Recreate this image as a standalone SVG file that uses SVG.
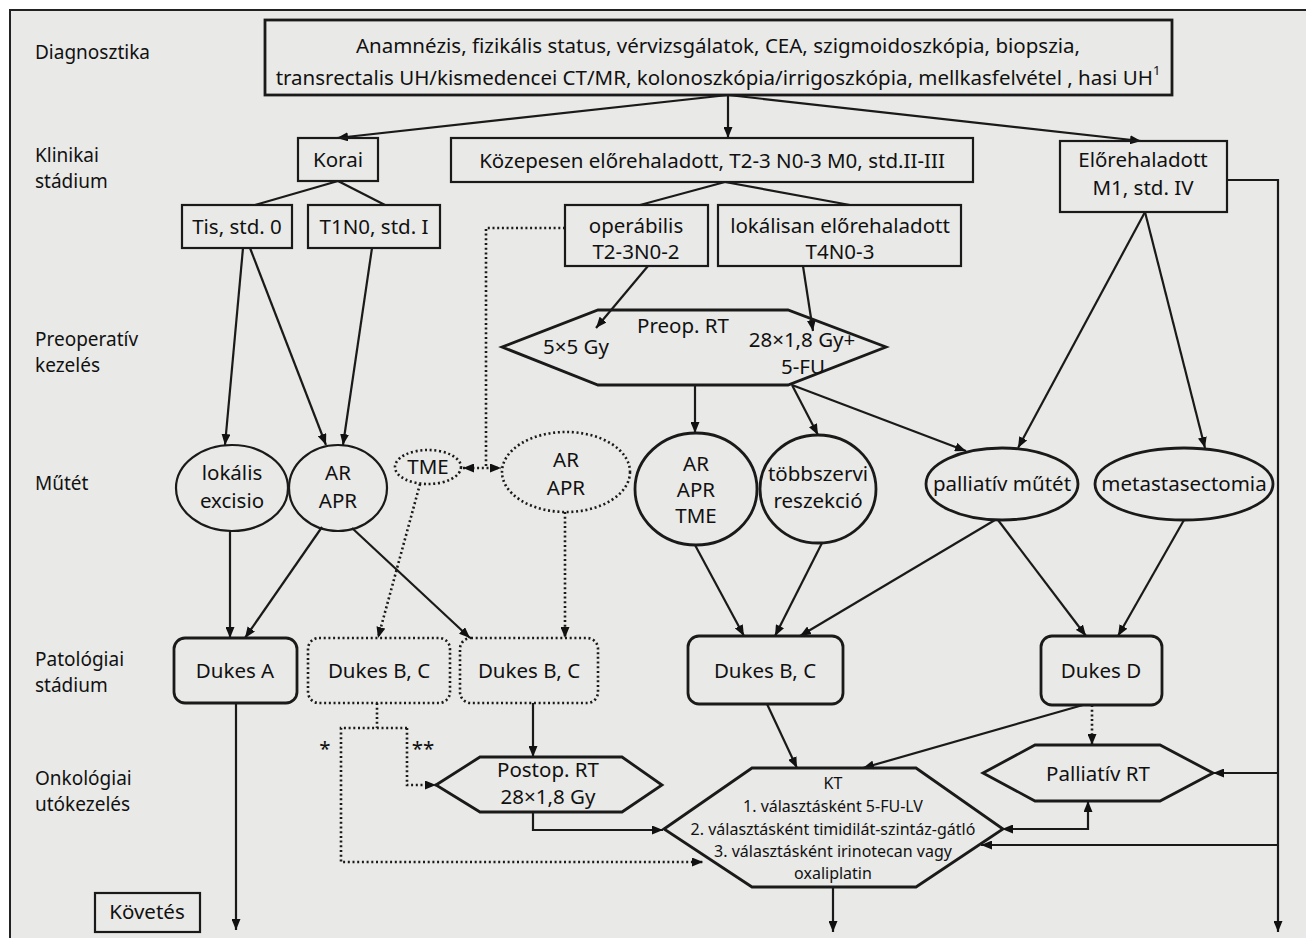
<svg xmlns="http://www.w3.org/2000/svg" width="1306" height="938" viewBox="0 0 1306 938">
<defs>
<marker id="ah" viewBox="0 0 11 9" refX="11" refY="4.5" markerWidth="11" markerHeight="9" markerUnits="userSpaceOnUse" orient="auto-start-reverse"><path d="M0,0 L11,4.5 L0,9 z" fill="#111"/></marker>
<style>
text{font-family:"Noto Sans","Liberation Sans",sans-serif;fill:#111;font-size:20.5px}
.lbl{font-size:19px}
.c{text-anchor:middle}
.kt{font-size:16px}
.n{fill:none;stroke:#1a1a1a;stroke-width:2.2}
.nt{fill:none;stroke:#1a1a1a;stroke-width:2.8}
.nd{fill:none;stroke:#1a1a1a;stroke-width:2.6;stroke-dasharray:2 2.7}
.e{fill:none;stroke:#1a1a1a;stroke-width:2.2}
.ed{fill:none;stroke:#1a1a1a;stroke-width:2.6;stroke-dasharray:2 2.7}
.a{marker-end:url(#ah)}
.b{marker-start:url(#ah);marker-end:url(#ah)}
</style>
</defs>
<rect x="0" y="0" width="1306" height="938" fill="#ffffff"/>
<rect x="10" y="10" width="1296" height="928" fill="#e9e9e7"/>
<path d="M1306,10 H10 V938" fill="none" stroke="#222" stroke-width="2"/>

<g id="row-labels">
<text class="lbl" x="35" y="59">Diagnosztika</text>
<text class="lbl" x="35" y="162">Klinikai</text>
<text class="lbl" x="35" y="188">stádium</text>
<text class="lbl" x="35" y="346">Preoperatív</text>
<text class="lbl" x="35" y="372">kezelés</text>
<text class="lbl" x="35" y="490">Műtét</text>
<text class="lbl" x="35" y="666">Patológiai</text>
<text class="lbl" x="35" y="692">stádium</text>
<text class="lbl" x="35" y="785">Onkológiai</text>
<text class="lbl" x="35" y="811">utókezelés</text>
</g>

<g id="connectors">
<line class="e a" x1="728" y1="95" x2="337" y2="138"/>
<line class="e a" x1="728" y1="95" x2="728" y2="138"/>
<line class="e a" x1="728" y1="95" x2="1141" y2="141"/>
<line class="e" x1="338" y1="181" x2="255" y2="205"/>
<line class="e" x1="338" y1="181" x2="385" y2="205"/>
<line class="e" x1="725" y1="182" x2="640" y2="205"/>
<line class="e" x1="725" y1="182" x2="850" y2="205"/>
<path class="e a" d="M1227,180 H1278 V932"/>
<line class="e a" x1="648" y1="266" x2="596" y2="328"/>
<line class="e a" x1="803" y1="266" x2="813" y2="331"/>
<line class="e a" x1="243" y1="248" x2="225" y2="445"/>
<line class="e a" x1="250" y1="248" x2="326" y2="445"/>
<line class="e a" x1="372" y1="248" x2="343" y2="445"/>
<path class="ed" d="M565,228 H486 V468"/>
<line class="ed b" x1="463" y1="468" x2="501" y2="468"/>
<line class="e a" x1="695" y1="385" x2="695" y2="433"/>
<line class="e a" x1="792" y1="385" x2="818" y2="435"/>
<line class="e a" x1="792" y1="385" x2="966" y2="451"/>
<line class="e a" x1="1145" y1="212" x2="1018" y2="448"/>
<line class="e a" x1="1145" y1="212" x2="1205" y2="448"/>
<line class="e a" x1="230" y1="531" x2="230" y2="638"/>
<line class="e a" x1="322" y1="527" x2="245" y2="638"/>
<line class="e a" x1="352" y1="528" x2="470" y2="638"/>
<line class="ed a" x1="420" y1="484" x2="378" y2="638"/>
<line class="ed a" x1="565" y1="512" x2="565" y2="638"/>
<line class="e a" x1="695" y1="545" x2="744" y2="636"/>
<line class="e a" x1="822" y1="543" x2="775" y2="636"/>
<line class="e a" x1="995" y1="520" x2="800" y2="636"/>
<line class="e a" x1="998" y1="520" x2="1086" y2="636"/>
<line class="e a" x1="1184" y1="520" x2="1118" y2="636"/>
<line class="e a" x1="236" y1="703" x2="236" y2="930"/>
<line class="ed" x1="377" y1="703" x2="377" y2="728"/>
<path class="ed a" d="M407,728 H341 V862 H703"/>
<path class="ed a" d="M407,728 V785 H436"/>
<line class="e a" x1="533" y1="703" x2="533" y2="757"/>
<path class="e a" d="M533,812 V830 H663"/>
<line class="e a" x1="767" y1="704" x2="797" y2="768"/>
<line class="e a" x1="1083" y1="705" x2="863" y2="768"/>
<line class="ed a" x1="1092" y1="705" x2="1092" y2="745"/>
<line class="e a" x1="1278" y1="773" x2="1213" y2="773"/>
<path class="e b" d="M1002,829 H1088 V801"/>
<line class="e a" x1="1278" y1="845" x2="981" y2="845"/>
<line class="e a" x1="833" y1="887" x2="833" y2="932"/>
<text x="325" y="756" class="c" font-size="22">*</text>
<text x="423" y="756" class="c" font-size="22">**</text>
</g>

<g id="diagnosztika">
<rect class="nt" x="265" y="20" width="907" height="75"/>
<text class="c" x="718" y="53" font-size="21.5">Anamnézis, fizikális status, vérvizsgálatok, CEA, szigmoidoszkópia, biopszia,</text>
<text class="c" x="718" y="85" font-size="21.5">transrectalis UH/kismedencei CT/MR,  kolonoszkópia/irrigoszkópia, mellkasfelvétel , hasi UH<tspan font-size="13" dy="-10">1</tspan></text>
</g>
<g id="korai"><rect class="n" x="298" y="138" width="80" height="43"/><text class="c" x="338" y="167">Korai</text></g>
<g id="kozepesen"><rect class="n" x="451" y="138" width="522" height="44"/><text class="c" x="712" y="168">Közepesen előrehaladott, T2-3 N0-3 M0, std.II-III</text></g>
<g id="elorehaladott"><rect class="n" x="1060" y="141" width="167" height="71"/><text class="c" x="1143" y="167">Előrehaladott</text><text class="c" x="1143" y="195">M1, std. IV</text></g>
<g id="tis"><rect class="n" x="182" y="205" width="110" height="43"/><text class="c" x="237" y="234">Tis, std. 0</text></g>
<g id="t1n0"><rect class="n" x="308" y="205" width="132" height="43"/><text class="c" x="374" y="234">T1N0, std. I</text></g>
<g id="operabilis"><rect class="n" x="565" y="205" width="143" height="61"/><text class="c" x="636" y="233">operábilis</text><text class="c" x="636" y="259">T2-3N0-2</text></g>
<g id="lokalisan"><rect class="n" x="718" y="205" width="243" height="61"/><text class="c" x="840" y="233">lokálisan előrehaladott</text><text class="c" x="840" y="259">T4N0-3</text></g>
<g id="preop-rt"><polygon class="nt" points="502,347 598,310 788,310 886,347 788,385 598,385"/>
<text class="c" x="576" y="354" font-size="20">5×5 Gy</text><text class="c" x="683" y="333" font-size="20">Preop. RT</text><text class="c" x="802" y="347" font-size="20">28×1,8 Gy+</text><text class="c" x="803" y="374" font-size="20">5-FU</text></g>
<g id="lokalis-excisio"><ellipse class="n" cx="232" cy="488" rx="56" ry="43"/><text class="c" x="232" y="480">lokális</text><text class="c" x="232" y="508">excisio</text></g>
<g id="ar-apr-1"><ellipse class="n" cx="338" cy="488" rx="49" ry="43"/><text class="c" x="338" y="480">AR</text><text class="c" x="338" y="508">APR</text></g>
<g id="tme"><ellipse class="nd" cx="428" cy="467" rx="33" ry="17"/><text class="c" x="428" y="474" font-size="19">TME</text></g>
<g id="ar-apr-2"><ellipse class="nd" cx="566" cy="472" rx="64" ry="40"/><text class="c" x="566" y="467">AR</text><text class="c" x="566" y="495">APR</text></g>
<g id="ar-apr-tme"><ellipse class="nt" cx="696" cy="489" rx="61" ry="56"/><text class="c" x="696" y="471">AR</text><text class="c" x="696" y="497">APR</text><text class="c" x="696" y="523">TME</text></g>
<g id="tobbszervi"><ellipse class="nt" cx="818" cy="489" rx="58" ry="54"/><text class="c" x="818" y="481">többszervi</text><text class="c" x="818" y="508">reszekció</text></g>
<g id="palliativ-mutet"><ellipse class="nt" cx="1002" cy="484" rx="76" ry="36"/><text class="c" x="1002" y="491">palliatív műtét</text></g>
<g id="metastasectomia"><ellipse class="nt" cx="1184" cy="484" rx="89" ry="36"/><text class="c" x="1184" y="491">metastasectomia</text></g>
<g id="dukes-a"><rect class="nt" x="174" y="638" width="123" height="65" rx="11"/><text class="c" x="235" y="678">Dukes A</text></g>
<g id="dukes-bc-1"><rect class="nd" x="308" y="638" width="142" height="65" rx="11"/><text class="c" x="379" y="678">Dukes B, C</text></g>
<g id="dukes-bc-2"><rect class="nd" x="460" y="638" width="138" height="65" rx="11"/><text class="c" x="529" y="678">Dukes B, C</text></g>
<g id="dukes-bc-3"><rect class="nt" x="688" y="636" width="155" height="68" rx="11"/><text class="c" x="765" y="678">Dukes B, C</text></g>
<g id="dukes-d"><rect class="nt" x="1041" y="636" width="121" height="69" rx="11"/><text class="c" x="1101" y="678">Dukes D</text></g>
<g id="postop-rt"><polygon class="nt" points="436,785 480,757 622,757 662,785 622,812 480,812"/><text class="c" x="548" y="777">Postop. RT</text><text class="c" x="548" y="804">28×1,8 Gy</text></g>
<g id="palliativ-rt"><polygon class="nt" points="983,773 1035,745 1160,745 1213,773 1160,801 1035,801"/><text class="c" x="1098" y="781">Palliatív RT</text></g>
<g id="kt"><polygon class="nt" points="664,829 752,768 916,768 1003,829 916,887 752,887"/>
<text class="c kt" x="833" y="789">KT</text>
<text class="c kt" x="833" y="812">1. választásként 5-FU-LV</text>
<text class="c kt" x="833" y="835">2. választásként timidilát-szintáz-gátló</text>
<text class="c kt" x="833" y="857">3. választásként irinotecan vagy</text>
<text class="c kt" x="833" y="879">oxaliplatin</text></g>
<g id="kovetes"><rect class="n" x="95" y="893" width="105" height="39"/><text class="c" x="147" y="919">Követés</text></g>
</svg>
